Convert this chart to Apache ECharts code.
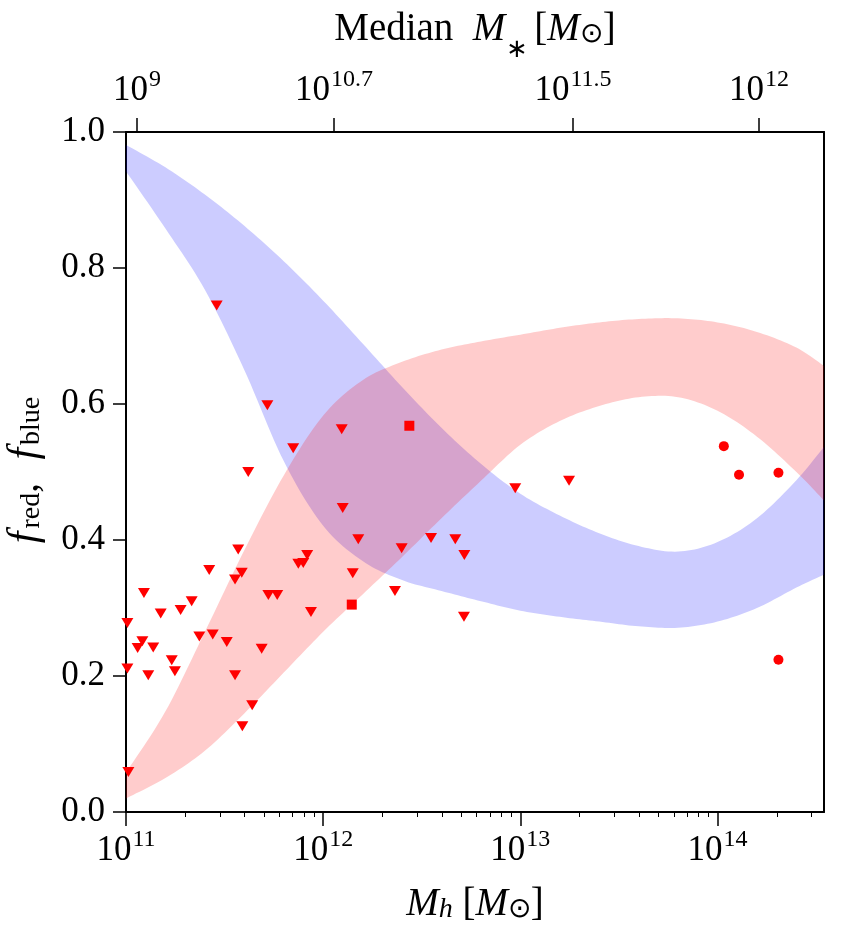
<!DOCTYPE html>
<html lang="en">
<head>
  <meta charset="UTF-8">
  <title>f_red, f_blue vs halo mass</title>
  <script src="https://cdn.jsdelivr.net/npm/echarts@6.0.0/dist/echarts.min.js"></script>
</head>
<body style="margin: 0; background: #fff;">
<div id="main" style="width: 854px; height: 941px;"></div>
<script type="text/javascript">
  // x values are log10(Mh / Msun)
  const bandX = [11.0, 11.2, 11.4, 11.6, 11.8, 12.0, 12.2, 12.4, 12.6, 12.8, 13.0, 13.2, 13.4, 13.6, 13.8, 14.0, 14.2, 14.4, 14.54]
  const blueUpper = [0.981, 0.948, 0.908, 0.862, 0.810, 0.752, 0.689, 0.625, 0.565, 0.512, 0.468, 0.436, 0.410, 0.391, 0.383, 0.397, 0.432, 0.488, 0.537]
  const blueLower = [0.942, 0.858, 0.768, 0.650, 0.516, 0.421, 0.369, 0.341, 0.325, 0.310, 0.296, 0.287, 0.280, 0.273, 0.271, 0.280, 0.300, 0.330, 0.349]
  const redUpper = [0.058, 0.148, 0.265, 0.385, 0.495, 0.583, 0.635, 0.662, 0.680, 0.692, 0.702, 0.712, 0.720, 0.725, 0.726, 0.720, 0.706, 0.683, 0.656]
  const redLower = [0.020, 0.050, 0.090, 0.145, 0.205, 0.265, 0.320, 0.375, 0.432, 0.487, 0.540, 0.575, 0.597, 0.610, 0.610, 0.590, 0.552, 0.500, 0.458]

  // downward triangles
  const triX = [11.620, 12.099, 12.178, 12.398, 12.547, 11.569, 11.422, 11.587, 11.553, 11.874, 11.899, 11.919,
    12.150, 12.364, 11.091, 11.333, 11.277, 11.176, 11.722, 11.767, 11.938, 11.007, 11.372, 11.440, 11.511,
    11.083, 11.059, 11.138, 11.688, 11.232, 11.248, 11.007, 11.113, 11.553, 11.640, 11.590, 11.012, 11.460,
    11.717, 11.848, 12.094, 12.670, 12.716, 12.974, 13.247, 12.714]
  const triY = [0.500, 0.447, 0.401, 0.388, 0.403, 0.386, 0.356, 0.352, 0.342, 0.365, 0.366, 0.378,
    0.351, 0.325, 0.322, 0.310, 0.297, 0.292, 0.319, 0.319, 0.294, 0.278, 0.258, 0.261, 0.250,
    0.251, 0.241, 0.242, 0.240, 0.223, 0.207, 0.211, 0.201, 0.201, 0.157, 0.126, 0.059, 0.745,
    0.598, 0.535, 0.563, 0.401, 0.378, 0.476, 0.487, 0.287]
  // squares
  const sqX = [12.437, 12.145]
  const sqY = [0.568, 0.305]
  // circles
  const circX = [14.032, 14.109, 14.309, 14.309]
  const circY = [0.538, 0.496, 0.499, 0.224]

  // axis ticks
  const bottomTicks = [11, 12, 13, 14]
  const topTickPos = [11.056, 12.055, 13.267, 14.21]
  const topTickLabels = ['9', '10.7', '11.5', '12']
  const xMin = 11, xMax = 14.54

  const minorTicks = []
  for (let n = 11; n <= 14; n++) {
    for (let k = 2; k <= 9; k++) {
      const v = n + Math.log10(k)
      if (v < xMax) minorTicks.push(v)
    }
  }

  const FONT = 'Liberation Serif'
  const black = '#000'
  const pow10Rich = {
    b: {fontFamily: FONT, fontSize: 35, color: black, verticalAlign: 'bottom', lineHeight: 40},
    sup: {fontFamily: FONT, fontSize: 24, color: black, verticalAlign: 'top', lineHeight: 20, padding: [0, 0, 0, 1]}
  }
  const nameRich = {
    n: {fontFamily: FONT, fontSize: 39, color: black, verticalAlign: 'bottom', lineHeight: 46},
    it: {fontFamily: FONT, fontSize: 39, fontStyle: 'italic', color: black, verticalAlign: 'bottom', lineHeight: 46},
    f: {fontFamily: FONT, fontSize: 42, fontStyle: 'italic', color: black, verticalAlign: 'bottom', lineHeight: 46, padding: [0, 3, 0, 4]},
    sub: {fontFamily: FONT, fontSize: 28, color: black, verticalAlign: 'bottom', lineHeight: 20},
    subit: {fontFamily: FONT, fontSize: 28, fontStyle: 'italic', color: black, verticalAlign: 'bottom', lineHeight: 20},
    ast: {fontFamily: FONT, fontSize: 26, color: black, verticalAlign: 'top', lineHeight: 20, padding: [34, 6, 0, 1]}
  }

  const zip = (xs, ys) => xs.map((x, i) => [x, ys[i]])

  // smooth pixel curve through points (Catmull-Rom drawn as cubic Bezier pieces)
  function smoothCurve(pts) {
    const out = [pts[0]]
    for (let i = 0; i < pts.length - 1; i++) {
      const p0 = pts[Math.max(i - 1, 0)], p1 = pts[i], p2 = pts[i + 1], p3 = pts[Math.min(i + 2, pts.length - 1)]
      const c1 = [p1[0] + (p2[0] - p0[0]) / 6, p1[1] + (p2[1] - p0[1]) / 6]
      const c2 = [p2[0] - (p3[0] - p1[0]) / 6, p2[1] - (p3[1] - p1[1]) / 6]
      for (let s = 1; s <= 12; s++) {
        const t = s / 12, u = 1 - t
        out.push([
          u * u * u * p1[0] + 3 * u * u * t * c1[0] + 3 * u * t * t * c2[0] + t * t * t * p2[0],
          u * u * u * p1[1] + 3 * u * u * t * c1[1] + 3 * u * t * t * c2[1] + t * t * t * p2[1]
        ])
      }
    }
    return out
  }

  // filled band between two curves, positioned through the axes' own scales
  function bandSeries(upper, lower, fill, z) {
    return {
      type: 'custom', clip: true, silent: true, z: z,
      data: [[bandX[0], upper[0]]],
      renderItem: (params, api) => {
        const top = smoothCurve(bandX.map((x, i) => api.coord([x, upper[i]])))
        const bot = smoothCurve(bandX.map((x, i) => api.coord([x, lower[i]])))
        return {
          type: 'polygon',
          shape: {points: top.concat(bot.reverse())},
          style: {fill: fill, stroke: null}
        }
      }
    }
  }

  const myChart = echarts.init(document.getElementById('main'), null, {renderer: 'canvas'})

  const option = {
    backgroundColor: '#fff',
    animation: false,
    grid: {left: 126, top: 132, width: 698, height: 680, containLabel: false, outerBoundsMode: 'none'},
    xAxis: [
      {
        type: 'value', position: 'bottom', min: xMin, max: xMax,
        axisLine: {show: true, onZero: false, lineStyle: {color: black, width: 2}},
        axisTick: {show: true, inside: false, length: 14, customValues: bottomTicks, lineStyle: {color: black, width: 1.5}},
        axisLabel: {
          show: true, margin: 16, customValues: bottomTicks,
          formatter: v => '{b|10}{sup|' + Math.round(v) + '}',
          rich: pow10Rich
        },
        splitLine: {show: false},
        name: '{it|M}{subit|h}{n| [}{it|M}{sub|⊙}{n|]}',
        nameLocation: 'middle', nameGap: 66,
        nameTextStyle: {rich: nameRich}
      },
      {
        type: 'value', position: 'bottom', min: xMin, max: xMax, gridIndex: 0,
        axisLine: {show: false, onZero: false},
        axisTick: {show: true, inside: false, length: 5, customValues: minorTicks, lineStyle: {color: black, width: 1}},
        axisLabel: {show: false},
        splitLine: {show: false}
      },
      {
        type: 'value', position: 'top', min: xMin, max: xMax,
        axisLine: {show: true, onZero: false, lineStyle: {color: black, width: 2}},
        axisTick: {show: true, inside: false, length: 14, customValues: topTickPos, lineStyle: {color: black, width: 1.5}},
        axisLabel: {
          show: true, margin: 24, customValues: topTickPos,
          formatter: v => '{b|10}{sup|' + topTickLabels[topTickPos.indexOf(v)] + '}',
          rich: pow10Rich
        },
        splitLine: {show: false},
        name: '{n|Median  }{it|M}{ast|∗}{n|[}{it|M}{sub|⊙}{n|]}',
        nameLocation: 'middle', nameGap: 82,
        nameTextStyle: {rich: nameRich}
      }
    ],
    yAxis: [
      {
        type: 'value', position: 'left', min: 0, max: 1, interval: 0.2,
        axisLine: {show: true, onZero: false, lineStyle: {color: black, width: 2}},
        axisTick: {show: true, inside: false, length: 13, lineStyle: {color: black, width: 1.5}},
        axisLabel: {
          show: true, margin: 21, fontFamily: FONT, fontSize: 35, color: black,
          formatter: v => v.toFixed(1)
        },
        splitLine: {show: false},
        name: '{f|f}{sub|red}{n|,  }{f|f}{sub|blue}',
        nameLocation: 'middle', nameRotate: 90, nameGap: 80,
        nameTextStyle: {rich: nameRich}
      },
      {
        type: 'value', position: 'right', min: 0, max: 1,
        axisLine: {show: true, onZero: false, lineStyle: {color: black, width: 2}},
        axisTick: {show: false}, axisLabel: {show: false}, splitLine: {show: false}
      }
    ],
    series: [
      bandSeries(blueUpper, blueLower, 'rgba(0,0,255,0.2)', 1),
      bandSeries(redUpper, redLower, 'rgba(255,0,0,0.2)', 2),
      {
        name: 'tri', type: 'scatter', data: zip(triX, triY),
        symbol: 'triangle', symbolRotate: 180, symbolSize: [12, 10],
        itemStyle: {color: '#ff0000', opacity: 1}, z: 5
      },
      {
        name: 'sq', type: 'scatter', data: zip(sqX, sqY),
        symbol: 'rect', symbolSize: 10,
        itemStyle: {color: '#ff0000', opacity: 1}, z: 5
      },
      {
        name: 'circ', type: 'scatter', data: zip(circX, circY),
        symbol: 'circle', symbolSize: 10,
        itemStyle: {color: '#ff0000', opacity: 1}, z: 5
      }
    ]
  }

  myChart.setOption(option)
</script>
</body>
</html>
